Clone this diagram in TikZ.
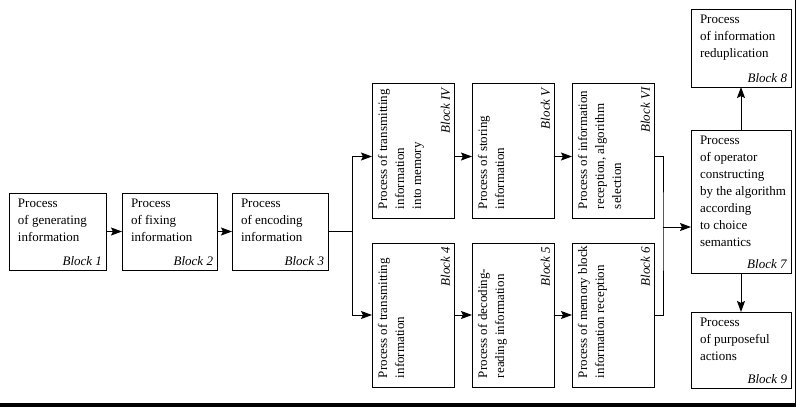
\documentclass[tikz,border=0pt]{standalone}
\usepackage{fontspec}
\usepackage{graphicx}
\setmainfont{Liberation Serif}
\usetikzlibrary{arrows.meta, positioning}

% text of one block: width, height, lines, label
\newcommand{\proctext}[4]{%
  \parbox[c][#2][s]{#1}{%
    \vspace*{6pt}%
    \hspace*{9pt}\parbox[t]{\dimexpr#1-11pt\relax}{\raggedright #3}\par
    \vfill
    \hfill\textit{#4}\hspace*{4pt}\par
    \vspace*{4pt}}}

\begin{document}
\begin{tikzpicture}[x=1pt, y=-1pt,
    block/.style={draw, line width=1pt, inner sep=0pt, outer sep=0pt,
                  font=\fontsize{13}{17}\selectfont},
    arrow/.style={-{Stealth[length=11pt, width=8pt, inset=2pt]}, line width=1pt}]
  \useasboundingbox (0,0) rectangle (796,407);

  % input chain
  \node[block, anchor=north west] (b1) at (9,193)
    {\proctext{97pt}{77pt}{Process\\of generating\\information}{Block 1}};
  \node[block, right=16pt of b1] (b2)
    {\proctext{95pt}{77pt}{Process\\of fixing\\information}{Block 2}};
  \node[block, right=15pt of b2] (b3)
    {\proctext{96pt}{77pt}{Process\\of encoding\\information}{Block 3}};

  % upper branch
  \node[block, anchor=north west] (bIV) at (372,83)
    {\rotatebox{90}{\proctext{135pt}{82pt}{Process of transmitting\\information\\into memory}{Block IV}}};
  \node[block, right=18pt of bIV] (bV)
    {\rotatebox{90}{\proctext{135pt}{82pt}{Process of storing\\information}{Block V}}};
  \node[block, right=18pt of bV] (bVI)
    {\rotatebox{90}{\proctext{135pt}{82pt}{Process of information\\reception, algorithm\\selection}{Block VI}}};

  % lower branch
  \node[block, anchor=north west] (b4) at (372,243)
    {\rotatebox{90}{\proctext{144pt}{82pt}{Process of transmitting\\information}{Block 4}}};
  \node[block, right=18pt of b4] (b5)
    {\rotatebox{90}{\proctext{144pt}{82pt}{Process of decoding-\\reading information}{Block 5}}};
  \node[block, right=18pt of b5] (b6)
    {\rotatebox{90}{\proctext{144pt}{82pt}{Process of memory block\\information reception}{Block 6}}};

  % output column
  \node[block, anchor=north west] (b7) at (691,130)
    {\proctext{100pt}{143pt}{Process\\of operator\\constructing\\by the algorithm\\according\\to choice\\semantics}{Block 7}};
  \node[block, above=43pt of b7] (b8)
    {\proctext{100pt}{78pt}{Process\\of information\\reduplication}{Block 8}};
  \node[block, below=39pt of b7] (b9)
    {\proctext{100pt}{76pt}{Process\\of purposeful\\actions}{Block 9}};

  \coordinate (fork) at ([xshift=24pt]b3.east);
  \coordinate (join) at (663,227);

  \draw[arrow] (b1) -- (b2);
  \draw[arrow] (b2) -- (b3);
  \draw[line width=1pt] (b3) -- (fork);
  \draw[arrow] (fork) |- ([yshift=-6pt]bIV.west);
  \draw[arrow] (fork) |- (b4.west);
  \draw[arrow] ([yshift=-6pt]bIV.east) -- ([yshift=-6pt]bV.west);
  \draw[arrow] ([yshift=-6pt]bV.east) -- ([yshift=-6pt]bVI.west);
  \draw[arrow] (b4) -- (b5);
  \draw[arrow] (b5) -- (b6);
  \draw[line width=1pt] ([yshift=-6pt]bVI.east) -| (join) |- (b6.east);
  \draw[arrow] (join) -- (join -| b7.west);
  \draw[arrow] (b7) -- (b8);
  \draw[arrow] (b7) -- (b9);

  % page edge
  \fill (0,403) rectangle (796,407);
  \draw[line width=1pt] (795.5,0) -- (795.5,403);
\end{tikzpicture}
\end{document}
